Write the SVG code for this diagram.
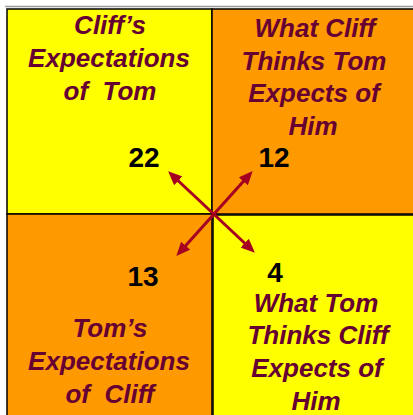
<svg xmlns="http://www.w3.org/2000/svg" width="413" height="415" viewBox="0 0 413 415">
<style>
.lbl{font-family:"Liberation Sans",Arial,sans-serif;font-weight:bold;font-style:italic;font-size:26px;fill:#660033;text-anchor:middle;white-space:pre}
.num{font-family:"Liberation Sans",Arial,sans-serif;font-weight:bold;font-size:28px;fill:#000;text-anchor:middle}
.q{stroke:#000;stroke-width:1.5}
.y{fill:#FFFF00}
.o{fill:#FF9900}
.arr{stroke:#A50021;stroke-width:3;fill:none}
</style>
<defs>
<marker id="ah" viewBox="0 0 14 12" refX="10" refY="6" markerWidth="14" markerHeight="12" markerUnits="userSpaceOnUse" orient="auto-start-reverse">
<path d="M0,0 L14,6 L0,12 Z" fill="#A50021"/>
</marker>
</defs>
<rect width="413" height="415" fill="#fff"/>
<line x1="5" y1="6.5" x2="413" y2="6.5" stroke="#9a9a9a" stroke-width="1.5"/>
<g id="q-tl">
<rect class="q y" x="7" y="9" width="205" height="205"/>
<text class="lbl" x="110" y="34">Cliff’s</text>
<text class="lbl" x="109" y="67">Expectations</text>
<text class="lbl" x="110" y="100">of  Tom</text>
<text class="num" x="144" y="167">22</text>
</g>
<g id="q-tr">
<rect class="q o" x="212" y="9" width="203" height="205"/>
<text class="lbl" x="315" y="37">What Cliff</text>
<text class="lbl" x="314" y="70">Thinks Tom</text>
<text class="lbl" x="314" y="102">Expects of</text>
<text class="lbl" x="313" y="135">Him</text>
<text class="num" x="274" y="167">12</text>
</g>
<g id="q-bl">
<rect class="q o" x="7" y="214" width="205" height="203"/>
<text class="lbl" x="110" y="337">Tom’s</text>
<text class="lbl" x="109" y="370">Expectations</text>
<text class="lbl" x="110" y="403">of  Cliff</text>
<text class="num" x="143" y="286">13</text>
</g>
<g id="q-br">
<rect class="q y" x="213" y="215" width="202" height="202"/>
<text class="lbl" x="316" y="312">What Tom</text>
<text class="lbl" x="318" y="344">Thinks Cliff</text>
<text class="lbl" x="317" y="377">Expects of</text>
<text class="lbl" x="316" y="410">Him</text>
<text class="num" x="275" y="282">4</text>
</g>
<g id="connectors">
<line class="arr" x1="171" y1="174" x2="252" y2="250" marker-start="url(#ah)" marker-end="url(#ah)"/>
<line class="arr" x1="179" y1="253" x2="250" y2="174" marker-start="url(#ah)" marker-end="url(#ah)"/>
</g>
</svg>
